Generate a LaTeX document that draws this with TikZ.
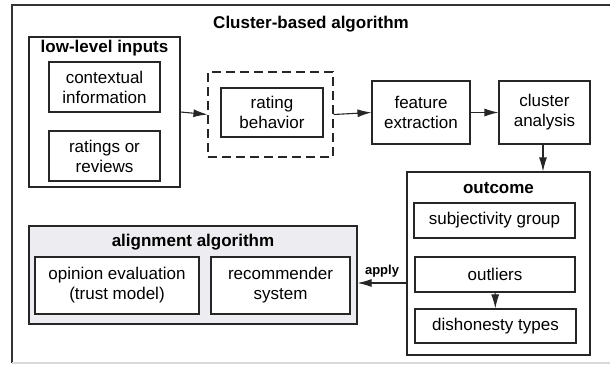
\documentclass[tikz,border=0pt]{standalone}
\usepackage{fontspec}
\setmainfont{Liberation Sans}
\usetikzlibrary{calc,arrows.meta}
\definecolor{aligngray}{RGB}{237,236,241}

\begin{document}
\begin{tikzpicture}[x=1pt,y=-1pt,
  every node/.style={font=\fontsize{17}{20}\selectfont,align=center,inner sep=0pt},
  box/.style={draw=black!85,line width=1.1pt,rectangle},
  title/.style={font=\fontsize{17}{20}\selectfont\bfseries},
  arr/.style={draw=black!85,line width=1.1pt,-{Latex[length=14pt,width=8pt]}},
  ]
  \useasboundingbox (0,0) rectangle (610,364);
  % frame
  \draw[black!80,line width=1.4pt] (610,5) -- (12,5) -- (12,363);
  \draw[black!15,line width=1.4pt] (12,363) -- (610,363);
  \node[title] (maintitle) at (311,24) {Cluster-based algorithm};

  % inputs
  \node[box,minimum width=151,minimum height=150] (lowin) at (104.5,112) {};
  \node[title] at (104.5,48) {low-level inputs};
  \node[box,minimum width=111,minimum height=50] (context) at (104.5,87)
    {contextual\\information};
  \node[box,minimum width=111,minimum height=50] (reviews) at (104.5,156)
    {ratings or\\reviews};

  % pipeline
  \node[box,dashed,dash pattern=on 9pt off 5pt,minimum width=125,minimum height=85]
    (ratewrap) at (270.5,114.5) {};
  \node[box,minimum width=102,minimum height=49] (rating) at (272,112.5)
    {rating\\behavior};
  \node[box,minimum width=98,minimum height=63] (feature) at (421,112.5)
    {feature\\extraction};
  \node[box,minimum width=91,minimum height=63] (cluster) at (544.5,112.5)
    {cluster\\analysis};

  % outcome
  \node[box,minimum width=183,minimum height=183] (outcome) at (498.5,263.5) {};
  \node[title] at (498.5,188) {outcome};
  \node[box,minimum width=161,minimum height=35] (subjgroup) at (494.5,220.5)
    {subjectivity group};
  \node[box,minimum width=160,minimum height=35] (outliers) at (495,274.5)
    {outliers};
  \node[box,minimum width=161,minimum height=34] (dishonest) at (495.5,326)
    {dishonesty types};

  % alignment
  \node[box,fill=aligngray,minimum width=328,minimum height=98] (alignment) at (193,275) {};
  \node[title] at (193,242) {alignment algorithm};
  \node[box,fill=white,minimum width=164,minimum height=57] (opinion) at (117,285.5)
    {opinion evaluation\\(trust model)};
  \node[box,fill=white,minimum width=139,minimum height=57] (recommender) at (280.5,285.5)
    {recommender\\system};

  \coordinate (applyfrom) at (outcome.west |- 0,283);
  \draw[arr] (lowin.east) -- (ratewrap.west);
  \draw[arr] (ratewrap.east) -- (feature.west);
  \draw[arr] (feature) -- (cluster);
  \draw[arr] (cluster.south -| 543,0) -- (outcome.north -| 543,0);
  \draw[arr] (outliers) -- (dishonest);
  \draw[arr] (applyfrom) -- node[above=5pt,font=\fontsize{13}{15}\selectfont\bfseries]{apply}
    (alignment.east |- applyfrom);
\end{tikzpicture}
\end{document}
